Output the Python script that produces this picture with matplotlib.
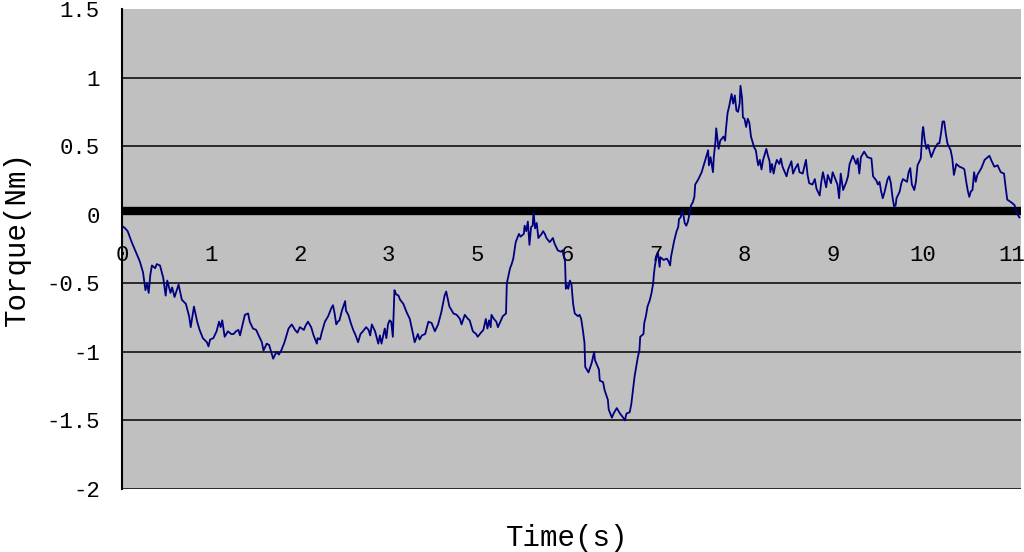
import matplotlib
matplotlib.use("Agg")
import matplotlib.pyplot as plt
from matplotlib.transforms import ScaledTranslation

# ── data (time in s, torque in Nm) ────────────────────────────────────────────
time_s = [
    0.00, 0.04, 0.07, 0.12, 0.17, 0.22, 0.26, 0.29, 0.31, 0.33, 0.35, 0.37, 0.41,
    0.43, 0.47, 0.51, 0.54, 0.56, 0.60, 0.62, 0.65, 0.70, 0.74, 0.79, 0.83, 0.85,
    0.89, 0.93, 0.96, 1.00, 1.05, 1.07, 1.09, 1.13, 1.17, 1.20, 1.22, 1.24, 1.27,
    1.31, 1.35, 1.38, 1.41, 1.44, 1.46, 1.50, 1.52, 1.56, 1.58, 1.62, 1.66, 1.69,
    1.73, 1.75, 1.79, 1.82, 1.85, 1.87, 1.91, 1.94, 1.97, 2.01, 2.06, 2.10, 2.14,
    2.17, 2.20, 2.25, 2.27, 2.30, 2.34, 2.37, 2.41, 2.42, 2.45, 2.47, 2.51, 2.55,
    2.59, 2.61, 2.63, 2.65, 2.67, 2.69, 2.72, 2.76, 2.77, 2.80, 2.83, 2.86, 2.89,
    2.92, 2.95, 2.98, 3.02, 3.05, 3.07, 3.09, 3.13, 3.17, 3.19, 3.21, 3.25, 3.27,
    3.29, 3.31, 3.33, 3.35, 3.37, 3.39, 3.42, 3.44, 3.48, 3.52, 3.56, 3.60, 3.62,
    3.66, 3.68, 3.71, 3.75, 3.79, 3.83, 3.87, 3.91, 3.95, 3.99, 4.01, 4.05, 4.10,
    4.14, 4.18, 4.20, 4.24, 4.28, 4.30, 4.34, 4.38, 4.40, 4.44, 4.47, 4.50, 4.52,
    4.54, 4.56, 4.57, 4.60, 4.63, 4.65, 4.68, 4.71, 4.75, 4.76, 4.80, 4.82, 4.84,
    4.87, 4.91, 4.93, 4.97, 4.98, 5.00, 5.02, 5.04, 5.06, 5.08, 5.09, 5.11, 5.13,
    5.15, 5.19, 5.21, 5.23, 5.25, 5.29, 5.33, 5.35, 5.39, 5.43, 5.45, 5.48, 5.49,
    5.50, 5.52, 5.54, 5.56, 5.58, 5.60, 5.64, 5.66, 5.68, 5.70, 5.72, 5.73, 5.77,
    5.81, 5.84, 5.85, 5.90, 5.91, 5.95, 5.97, 6.01, 6.02, 6.04, 6.06, 6.08, 6.12,
    6.16, 6.20, 6.22, 6.24, 6.28, 6.30, 6.32, 6.34, 6.36, 6.38, 6.40, 6.41, 6.45,
    6.46, 6.48, 6.50, 6.53, 6.55, 6.57, 6.58, 6.59, 6.61, 6.63, 6.65, 6.66, 6.70,
    6.74, 6.76, 6.78, 6.79, 6.81, 6.83, 6.86, 6.88, 6.89, 6.91, 6.93, 6.95, 6.96,
    6.98, 7.00, 7.02, 7.04, 7.06, 7.08, 7.09, 7.13, 7.17, 7.21, 7.25, 7.26, 7.28,
    7.31, 7.32, 7.34, 7.35, 7.38, 7.40, 7.44, 7.46, 7.47, 7.49, 7.51, 7.54, 7.56,
    7.58, 7.60, 7.62, 7.64, 7.65, 7.67, 7.68, 7.70, 7.72, 7.74, 7.76, 7.78, 7.80,
    7.82, 7.84, 7.86, 7.87, 7.89, 7.91, 7.93, 7.97, 7.99, 8.01, 8.02, 8.04, 8.06,
    8.08, 8.10, 8.13, 8.15, 8.17, 8.22, 8.24, 8.28, 8.30, 8.33, 8.36, 8.38, 8.42,
    8.46, 8.48, 8.50, 8.54, 8.57, 8.59, 8.63, 8.65, 8.67, 8.71, 8.73, 8.77, 8.79,
    8.83, 8.85, 8.87, 8.89, 8.92, 8.96, 8.98, 9.00, 9.04, 9.08, 9.10, 9.12, 9.14,
    9.18, 9.22, 9.27, 9.29, 9.33, 9.35, 9.37, 9.39, 9.41, 9.43, 9.47, 9.49, 9.51,
    9.53, 9.55, 9.57, 9.58, 9.62, 9.64, 9.66, 9.71, 9.73, 9.75, 9.77, 9.80, 9.82,
    9.84, 9.88, 9.90, 9.91, 9.93, 9.95, 9.97, 10.01, 10.05, 10.09, 10.11, 10.13,
    10.15, 10.17, 10.19, 10.21, 10.25, 10.27, 10.29, 10.32, 10.36, 10.40, 10.42,
    10.44, 10.46, 10.48, 10.50, 10.52, 10.54, 10.56, 10.58, 10.63, 10.65, 10.67,
    10.71, 10.73, 10.75, 10.79, 10.83, 10.87, 10.91, 10.93, 10.95, 11.00, 11.04,
    11.06, 11.08, 11.10,
]
torque_nm = [
    -0.08, -0.10, -0.12, -0.20, -0.27, -0.34, -0.42, -0.55, -0.50, -0.57, -0.44, -0.37, -0.39,
    -0.36, -0.37, -0.46, -0.59, -0.48, -0.57, -0.53, -0.60, -0.51, -0.62, -0.65, -0.74, -0.82,
    -0.67, -0.78, -0.84, -0.90, -0.93, -0.96, -0.91, -0.90, -0.85, -0.78, -0.82, -0.77, -0.89,
    -0.85, -0.87, -0.87, -0.85, -0.84, -0.88, -0.78, -0.73, -0.72, -0.78, -0.83, -0.84, -0.88,
    -0.93, -0.99, -0.94, -0.95, -1.01, -1.05, -1.00, -1.02, -0.99, -0.93, -0.83, -0.80, -0.84,
    -0.86, -0.82, -0.84, -0.81, -0.78, -0.82, -0.88, -0.94, -0.90, -0.91, -0.86, -0.78, -0.74,
    -0.68, -0.66, -0.72, -0.80, -0.78, -0.77, -0.70, -0.63, -0.70, -0.73, -0.79, -0.84, -0.88,
    -0.93, -0.87, -0.85, -0.82, -0.84, -0.88, -0.80, -0.85, -0.94, -0.88, -0.94, -0.83, -0.90,
    -0.80, -0.77, -0.78, -0.89, -0.55, -0.58, -0.59, -0.62, -0.65, -0.71, -0.76, -0.87, -0.93,
    -0.87, -0.91, -0.88, -0.87, -0.78, -0.79, -0.85, -0.80, -0.71, -0.59, -0.56, -0.67, -0.72,
    -0.73, -0.76, -0.80, -0.73, -0.76, -0.77, -0.85, -0.87, -0.89, -0.86, -0.84, -0.76, -0.83,
    -0.77, -0.82, -0.73, -0.76, -0.78, -0.82, -0.78, -0.74, -0.72, -0.50, -0.39, -0.36, -0.32,
    -0.20, -0.14, -0.16, -0.14, -0.08, -0.12, -0.05, -0.22, -0.09, -0.08, 0.02, -0.10, -0.06,
    -0.17, -0.14, -0.12, -0.14, -0.17, -0.20, -0.17, -0.21, -0.26, -0.27, -0.26, -0.34, -0.54,
    -0.51, -0.54, -0.48, -0.51, -0.65, -0.72, -0.74, -0.73, -0.76, -0.84, -0.93, -1.11, -1.15,
    -1.08, -1.00, -1.06, -1.13, -1.21, -1.22, -1.28, -1.35, -1.42, -1.45, -1.48, -1.45, -1.41,
    -1.45, -1.48, -1.50, -1.45, -1.44, -1.38, -1.28, -1.18, -1.11, -1.04, -0.99, -0.89, -0.87,
    -0.79, -0.74, -0.67, -0.62, -0.57, -0.50, -0.43, -0.38, -0.31, -0.28, -0.38, -0.31, -0.33,
    -0.32, -0.34, -0.37, -0.31, -0.25, -0.19, -0.12, -0.09, -0.03, -0.02, 0.03, -0.02, -0.06,
    -0.08, -0.05, 0.01, 0.07, 0.09, 0.13, 0.22, 0.26, 0.31, 0.39, 0.47, 0.36, 0.42,
    0.31, 0.42, 0.53, 0.63, 0.48, 0.54, 0.57, 0.54, 0.62, 0.74, 0.79, 0.88, 0.81,
    0.87, 0.76, 0.75, 0.81, 0.94, 0.85, 0.71, 0.70, 0.64, 0.70, 0.67, 0.57, 0.53,
    0.49, 0.47, 0.39, 0.36, 0.40, 0.33, 0.40, 0.48, 0.43, 0.39, 0.31, 0.37, 0.30,
    0.36, 0.40, 0.37, 0.41, 0.35, 0.28, 0.33, 0.39, 0.30, 0.34, 0.37, 0.31, 0.30,
    0.40, 0.29, 0.23, 0.22, 0.26, 0.19, 0.14, 0.24, 0.31, 0.20, 0.29, 0.23, 0.31,
    0.25, 0.22, 0.12, 0.30, 0.18, 0.24, 0.28, 0.37, 0.43, 0.37, 0.41, 0.30, 0.42,
    0.46, 0.42, 0.41, 0.28, 0.25, 0.22, 0.24, 0.17, 0.12, 0.16, 0.26, 0.28, 0.23,
    0.13, 0.06, 0.07, 0.12, 0.17, 0.23, 0.26, 0.24, 0.31, 0.34, 0.22, 0.18, 0.24,
    0.36, 0.41, 0.60, 0.64, 0.54, 0.48, 0.51, 0.42, 0.48, 0.52, 0.52, 0.59,
    0.68, 0.68, 0.59, 0.52, 0.47, 0.41, 0.29, 0.37, 0.35, 0.34, 0.33,
    0.25, 0.18, 0.13, 0.17, 0.18, 0.31, 0.24, 0.29, 0.34, 0.37, 0.40,
    0.42, 0.43, 0.40, 0.35, 0.36, 0.31, 0.30, 0.20, 0.11, 0.09, 0.07,
    0.03, 0.00, -0.02,
]

# category-style axis: 11 labels evenly spaced, "4" is missing in the original
x_tick_pos = [0.0, 1.1, 2.2, 3.3, 4.4, 5.5, 6.6, 7.7, 8.8, 9.9, 11.0]
x_tick_labels = ['0', '1', '2', '3', '5', '6', '7', '8', '9', '10', '11']
y_ticks = [-2, -1.5, -1, -0.5, 0, 0.5, 1, 1.5]
y_tick_labels = ['-2', '-1.5', '-1', '-0.5', '0', '0.5', '1', '1.5']

plt.rcParams['font.family'] = ['Liberation Mono', 'DejaVu Sans Mono']

fig = plt.figure(figsize=(10.24, 5.52), dpi=100)
ax = fig.add_axes([122/1024, 1 - 489/552, (1021 - 122)/1024, (489 - 9)/552])
ax.set_facecolor('#C0C0C0')

# horizontal gridlines (none on the top edge)
for yv in y_ticks[:-1]:
    if yv != 0:
        ax.axhline(yv, color='black', lw=1.1, zorder=1)

# thick category axis line, drawn a few pixels above zero like the original
shift = ScaledTranslation(0, 3.5/100, fig.dpi_scale_trans)
ax.plot([0, 1], [0, 0], color='black', lw=6, zorder=2, solid_capstyle='butt',
        transform=ax.get_yaxis_transform() + shift)

ax.plot(time_s, torque_nm, color='#000080', lw=1.3, zorder=3)

ax.set_xlim(0, 11.12)
ax.set_ylim(-2, 1.5)

ax.spines['top'].set_visible(False)
ax.spines['right'].set_visible(False)
ax.spines['left'].set_linewidth(1.5)
ax.spines['bottom'].set_position(('data', 0))
ax.spines['bottom'].set_visible(False)

ax.set_xticks(x_tick_pos)
ax.set_xticklabels(x_tick_labels)
ax.set_yticks(y_ticks)
ax.set_yticklabels(y_tick_labels)
ax.tick_params(axis='x', length=0, pad=22, labelsize=16)
ax.tick_params(axis='y', length=0, pad=16, labelsize=16)

fig.text(567/1024, 1 - 538/552, 'Time(s)', ha='center', va='center', fontsize=21)
fig.text(17/1024, 1 - 238/552, 'Torque(Nm)', ha='center', va='center',
         rotation=90, fontsize=21)

fig.savefig('out.png', dpi=100, facecolor='white')
